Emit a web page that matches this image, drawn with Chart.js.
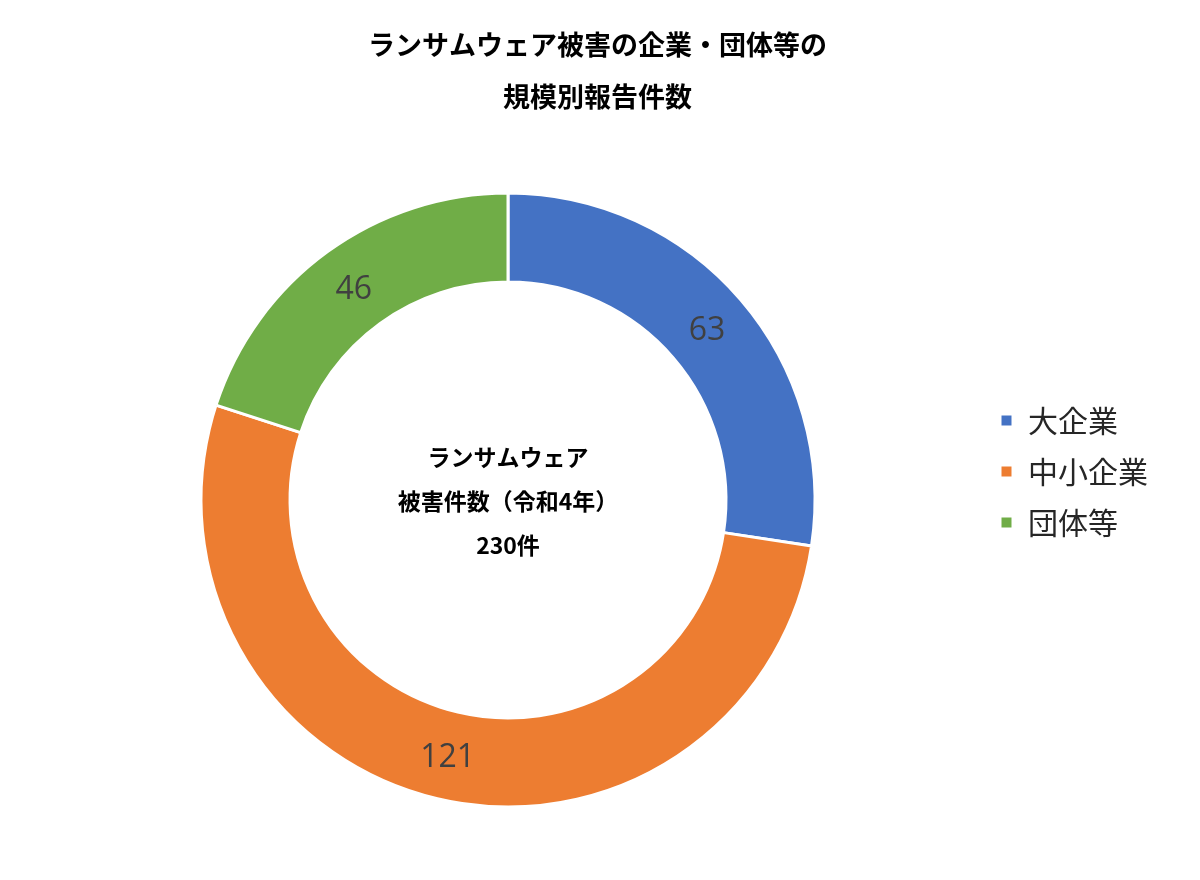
<!DOCTYPE html>
<html lang="ja">
<head>
  <meta charset="UTF-8" />
  <title>ランサムウェア被害の企業・団体等の規模別報告件数</title>
  <script src="https://cdn.jsdelivr.net/npm/chart.js"></script>
  <style>
    body {
      margin: 0;
      background: #ffffff;
    }
    #wrap {
      width: 1200px;
      height: 880px;
    }
  </style>
</head>
<body>
  <div id="wrap"><canvas id="chart" width="1200" height="880"></canvas></div>

  <script>
    const titleLines = ["ランサムウェア被害の企業・団体等の", "規模別報告件数"];
    const categories = ["大企業", "中小企業", "団体等"];
    const counts = [63, 121, 46];
    const sliceColors = ["#4472C4", "#ED7D31", "#70AD47"];
    const centerLines = ["ランサムウェア", "被害件数（令和4年）", "230件"];

    const jpFont = "'Noto Sans CJK JP', 'Noto Sans', sans-serif";

    // value on each ring segment
    const valueLabels = {
      id: "valueLabels",
      afterDatasetsDraw(chart) {
        const ctx = chart.ctx;
        const meta = chart.getDatasetMeta(0);
        ctx.save();
        ctx.font = "32px 'Open Sans', 'Noto Sans', sans-serif";
        ctx.fillStyle = "#404040";
        ctx.textAlign = "center";
        ctx.textBaseline = "middle";
        meta.data.forEach((arc, i) => {
          const p = arc.getCenterPoint();
          ctx.fillText(String(chart.data.datasets[0].data[i]), p.x, p.y + 2);
        });
        ctx.restore();
      }
    };

    // total in the hole
    const centerText = {
      id: "centerText",
      afterDatasetsDraw(chart) {
        const ctx = chart.ctx;
        const arc = chart.getDatasetMeta(0).data[0];
        if (!arc) return;
        ctx.save();
        ctx.font = "bold 23px " + jpFont;
        ctx.fillStyle = "#000000";
        ctx.textAlign = "center";
        ctx.textBaseline = "middle";
        const gap = 44;
        centerLines.forEach((line, i) => {
          ctx.fillText(line, arc.x, arc.y + 1 + (i - 1) * gap);
        });
        ctx.restore();
      }
    };

    new Chart(document.getElementById("chart"), {
      type: "doughnut",
      data: {
        labels: categories,
        datasets: [{
          data: counts,
          backgroundColor: sliceColors,
          borderColor: "#ffffff",
          borderWidth: 3,
          radius: 307,
          cutout: "71%"
        }]
      },
      options: {
        responsive: false,
        animation: false,
        layout: { padding: { left: 37, right: 42, top: 0, bottom: 3 } },
        plugins: {
          tooltip: { enabled: false },
          title: {
            display: true,
            text: titleLines,
            color: "#000000",
            font: { family: jpFont, size: 27, weight: "bold", lineHeight: 52 / 27 },
            padding: { top: 19, bottom: 0 }
          },
          legend: {
            position: "right",
            // empty title only pushes the items down
            title: { display: true, text: " ", font: { size: 10, lineHeight: 1 }, padding: { top: 0, bottom: 56 } },
            labels: {
              color: "#262626",
              font: { family: jpFont, size: 30 },
              boxWidth: 13,
              boxHeight: 13,
              padding: 21
            }
          }
        }
      },
      plugins: [valueLabels, centerText]
    });
  </script>
</body>
</html>
